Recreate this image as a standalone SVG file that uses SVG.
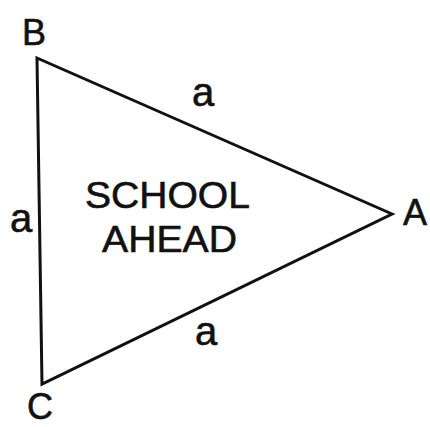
<svg xmlns="http://www.w3.org/2000/svg" width="430" height="427" viewBox="0 0 430 427">
<style>
.edge{fill:none;stroke:#111;stroke-width:3;stroke-linejoin:miter;stroke-linecap:round}
.lbl{font-family:"Liberation Sans",Arial,sans-serif;fill:#111;stroke:#111;stroke-width:0.6;text-anchor:middle}
.v{font-size:36px}
.s{font-size:40px}
.t{font-size:37px}
</style>
<rect width="430" height="427" fill="#fff"/>
<g id="connectors">
<path class="edge" d="M37,58 L392,214 L42,384 Z"/>
</g>
<g id="nodeB"><text class="lbl v" x="34" y="45">B</text></g>
<g id="nodeA"><text class="lbl v" x="415" y="225">A</text></g>
<g id="nodeC"><text class="lbl v" x="40" y="419" font-size="34">C</text></g>
<g id="sideBA"><text class="lbl s" x="203" y="106">a</text></g>
<g id="sideBC"><text class="lbl s" x="21" y="232">a</text></g>
<g id="sideCA"><text class="lbl s" x="206" y="345">a</text></g>
<g id="sign">
<text class="lbl t" x="167.5" y="208" textLength="165" lengthAdjust="spacingAndGlyphs">SCHOOL</text>
<text class="lbl t" x="169.5" y="252" textLength="135" lengthAdjust="spacingAndGlyphs">AHEAD</text>
</g>
</svg>
